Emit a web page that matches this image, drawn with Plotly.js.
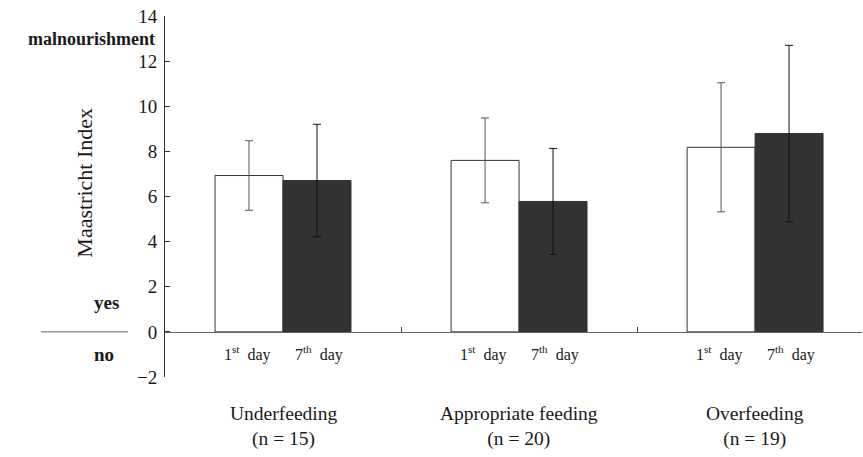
<!DOCTYPE html>
<html>
<head>
<meta charset="utf-8">
<script src="https://cdn.plot.ly/plotly-3.0.1.min.js"></script>
<style>html,body{margin:0;padding:0;background:#fff;}#chart{width:863px;height:457px;}</style>
</head>
<body>
<div id="chart"></div>
<script>
// Data
const groups = [0, 1, 2];
const groupNames = ["Underfeeding", "Appropriate feeding", "Overfeeding"];
const groupN = ["(n = 15)", "(n = 20)", "(n = 19)"];
const day1Values = [6.93, 7.60, 8.18];
const day1Errors = [1.54, 1.88, 2.86];
const day7Values = [6.71, 5.78, 8.79];
const day7Errors = [2.49, 2.35, 3.91];
const dayLabels = ["1<sup>st</sup>  day", "7<sup>th</sup>  day"];
const yTicks = [-2, 0, 2, 4, 6, 8, 10, 12, 14];
const yTickText = ["\u22122", "0", "2", "4", "6", "8", "10", "12", "14"];

const serif = "Liberation Serif";
const ink = "#1a1a1a";

const traces = [
  {
    type: "bar", x: groups, y: day1Values, name: "1st day",
    marker: {color: "#ffffff", line: {color: "#333333", width: 1}},
    error_y: {type: "data", array: day1Errors, visible: true, color: "#555555", thickness: 1, width: 4},
    showlegend: false, hoverinfo: "skip"
  },
  {
    type: "bar", x: groups, y: day7Values, name: "7th day",
    marker: {color: "#333333", line: {color: "#333333", width: 1}},
    error_y: {type: "data", array: day7Errors, visible: true, color: "#111111", thickness: 1, width: 4},
    showlegend: false, hoverinfo: "skip"
  }
];

const annotations = [];
groups.forEach((g, i) => {
  annotations.push({x: g, xref: "x", y: 0, yref: "y", yshift: -22, xshift: -36, text: dayLabels[0], showarrow: false, font: {family: serif, size: 16, color: ink}});
  annotations.push({x: g, xref: "x", y: 0, yref: "y", yshift: -22, xshift: 36, text: dayLabels[1], showarrow: false, font: {family: serif, size: 16, color: ink}});
  annotations.push({x: g, xref: "x", y: -0.066, yref: "paper", text: groupNames[i] + "<br>" + groupN[i], showarrow: false, yanchor: "top", font: {family: serif, size: 19.5, color: ink}});
});
annotations.push({x: (70 - 165) / 697, xref: "paper", y: 0.537, yref: "paper", text: "Maastricht Index", textangle: -90, showarrow: false, font: {family: serif, size: 22, color: ink}});
annotations.push({xref: "paper", x: -0.011, xanchor: "right", yref: "y", y: 13, text: "<b>malnourishment</b>", showarrow: false, font: {family: serif, size: 18, color: ink}});
annotations.push({xref: "paper", x: -0.063, xanchor: "right", yref: "y", y: 1.3, text: "<b>yes</b>", showarrow: false, font: {family: serif, size: 19, color: ink}});
annotations.push({xref: "paper", x: -0.087, xanchor: "center", yref: "y", y: -1.0, text: "<b>no</b>", showarrow: false, font: {family: serif, size: 19, color: ink}});

const layout = {
  width: 863, height: 457,
  margin: {l: 165, r: 1, t: 16, b: 80},
  paper_bgcolor: "#fff", plot_bgcolor: "#fff",
  barmode: "group", bargap: 0.424, bargroupgap: 0,
  font: {family: serif, size: 16, color: ink},
  xaxis: {
    range: [-0.5, 2.453], showgrid: false, zeroline: false,
    anchor: "free", position: 0.125, showline: true, linecolor: "#666", linewidth: 1,
    tickmode: "array", tickvals: [0.5, 1.5], ticks: "inside", ticklen: 5, tickcolor: "#444",
    showticklabels: false, fixedrange: true
  },
  yaxis: {
    range: [-2, 14], showgrid: false, zeroline: false,
    showline: true, linecolor: "#333", linewidth: 1,
    tickmode: "array", tickvals: yTicks, ticktext: yTickText,
    ticks: "inside", ticklen: 5, tickcolor: "#333",
    tickfont: {family: serif, size: 19, color: ink}, ticklabelstandoff: 3, fixedrange: true
  },
  shapes: [
    {type: "line", xref: "paper", yref: "y", x0: (41 - 165) / 697, x1: (128 - 165) / 697, y0: 0, y1: 0, line: {color: "#666", width: 1}}
  ],
  annotations: annotations
};

Plotly.newPlot("chart", traces, layout, {displayModeBar: false, staticPlot: true});
</script>
</body>
</html>
